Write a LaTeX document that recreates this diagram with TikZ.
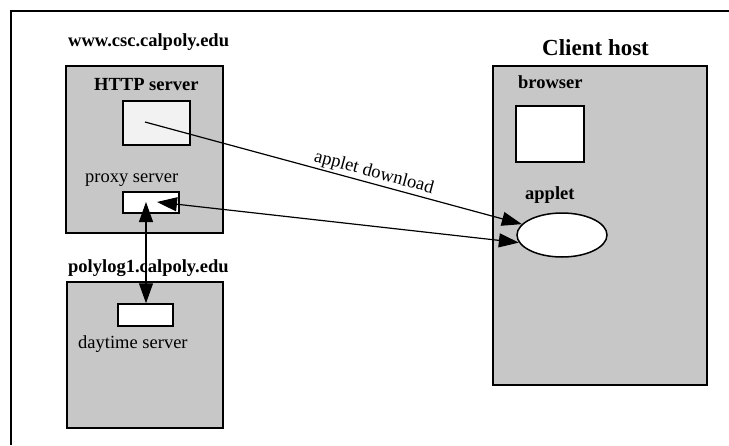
\documentclass[tikz,border=0pt]{standalone}
\usepackage{fontspec}
\setmainfont{Liberation Serif}
\usetikzlibrary{arrows.meta,shapes.geometric}
\definecolor{hostgray}{gray}{0.78}
\definecolor{lightbox}{gray}{0.95}
\begin{document}
\begin{tikzpicture}[x=1pt,y=-1pt,
  hostbox/.style={draw=black,line width=1.6pt,fill=hostgray,rectangle,inner sep=0pt},
  procbox/.style={draw=black,line width=1.5pt,fill=white,rectangle,inner sep=0pt},
  lbl/.style={anchor=base west,inner sep=0pt,font=\fontsize{18.5}{20}\selectfont\bfseries},
  rlbl/.style={anchor=base west,inner sep=0pt,font=\fontsize{18.5}{20}\selectfont},
  conn/.style={draw=black,line width=1.2pt},
  tip/.style={-{Triangle[length=20pt,width=14pt]}},
  tips/.style={{Triangle[length=20pt,width=14pt]}-{Triangle[length=20pt,width=14pt]}}]
\useasboundingbox (0,0) rectangle (729,445);
% outer frame (top and left edges)
\draw[line width=2pt] (729,11) -- (11,11) -- (11,445);
% host boxes
\node[hostbox,minimum width=157pt,minimum height=167pt] (www) at (144.5,149.5) {};
\node[hostbox,minimum width=156pt,minimum height=146pt] (poly) at (145,355) {};
\node[hostbox,minimum width=214pt,minimum height=319pt] (client) at (600,225.5) {};
% host labels
\node[lbl] (wwwl) at (68,46) {www.csc.calpoly.edu};
\node[lbl] (polyl) at (68,272) {polylog1.calpoly.edu};
\node[lbl,font=\fontsize{23}{25}\selectfont\bfseries] (clientl) at (542,55) {Client host};
% process boxes
\node[procbox,fill=lightbox,minimum width=67pt,minimum height=44pt] (http) at (156.5,123) {};
\node[procbox,minimum width=56pt,minimum height=21pt] (proxy) at (151,202.5) {};
\node[procbox,minimum width=55pt,minimum height=22pt] (day) at (145.5,315) {};
\node[procbox,minimum width=68pt,minimum height=56pt] (browser) at (550,134) {};
\node[procbox,ellipse,minimum width=90pt,minimum height=44pt] (app) at (562,235) {};
% process labels
\node[lbl] (httpl) at (94,90) {HTTP server};
\node[rlbl] (proxyl) at (85,182) {proxy server};
\node[rlbl] (dayl) at (78,348) {daytime server};
\node[lbl] (browserl) at (518,88) {browser};
\node[lbl] (appl) at (525,199) {applet};
% connectors
\coordinate (hs) at (145,122);
\coordinate (pe) at (157,202);
\coordinate (pv) at (146,202);
\draw[conn,tip] (hs) -- node[pos=0.6,sloped,above,inner sep=1.5pt,font=\fontsize{18.5}{20}\selectfont] {applet download} (app);
\draw[conn,tips] (pe) -- (app.190);
\draw[conn,tips] (pv) -- (pv |- day.north);
\end{tikzpicture}
\end{document}
